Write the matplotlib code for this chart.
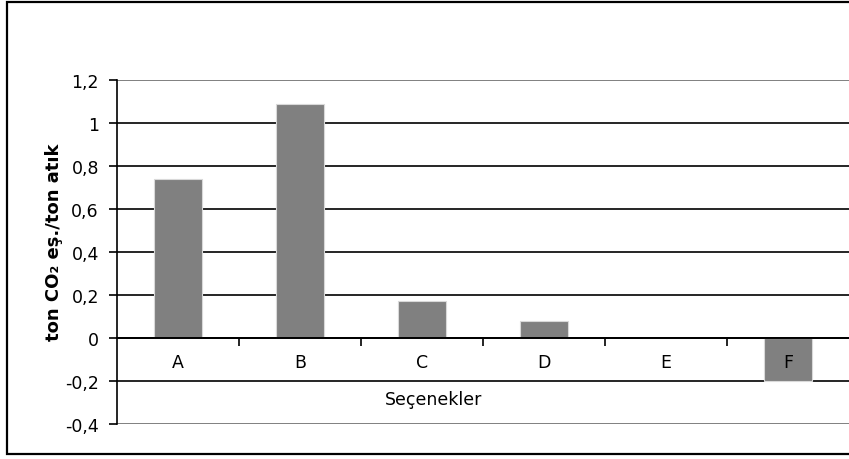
import matplotlib
matplotlib.use("Agg")
import matplotlib.pyplot as plt
from matplotlib.lines import Line2D

# Emission factors per option
categories = ["A", "B", "C", "D", "E", "F"]
values = [0.74, 1.09, 0.17, 0.08, 0.0, -0.2]

y_ticks = [-0.4, -0.2, 0.0, 0.2, 0.4, 0.6, 0.8, 1.0, 1.2]
y_tick_labels = ["-0,4", "-0,2", "0", "0,2", "0,4", "0,6", "0,8", "1", "1,2"]

plt.rcParams["font.family"] = ["DejaVu Sans"]

W, H = 849, 460
fig = plt.figure(figsize=(W / 100, H / 100), dpi=100)

# Outer chart frame: left, top and bottom edges (right edge lies off the canvas)
frame_x = [W + 10, 7, 7, W + 10]
frame_y = [H - 2.5, H - 2.5, H - 455, H - 455]
fig.lines.append(Line2D([v / W for v in frame_x], [v / H for v in frame_y],
                        transform=fig.transFigure, color="black",
                        linewidth=1.6, solid_joinstyle="miter"))

ax = fig.add_axes([117 / W, (H - 425) / H, (849 - 117) / W, (425 - 81) / H])
ax.set_axisbelow(False)
x = list(range(len(categories)))

ax.set_xlim(-0.5, len(categories) - 0.5)
ax.set_ylim(-0.4, 1.2)

# Horizontal gridlines; the outer ones form the grey plot-area border
for t in y_ticks:
    if t in (-0.4, 1.2):
        ax.axhline(t, color="#808080", linewidth=1.4, zorder=1)
    else:
        ax.axhline(t, color="black", linewidth=1.2, zorder=1)

ax.bar(x, values, width=0.4, color="#808080", edgecolor="#d9d9d9",
       linewidth=0.8, zorder=2)

# Spines
for side in ("top", "right"):
    ax.spines[side].set_visible(False)
ax.spines["left"].set_color("black")
ax.spines["left"].set_linewidth(1.2)
ax.spines["bottom"].set_position(("data", 0))
ax.spines["bottom"].set_color("black")
ax.spines["bottom"].set_linewidth(1.4)
ax.spines["bottom"].set_zorder(3)

ax.set_yticks(y_ticks)
ax.set_yticklabels(y_tick_labels)
ax.tick_params(axis="y", direction="out", length=6, width=1.2,
               labelsize=12.5, pad=7, colors="black")

# Category labels centred under the zero line; ticks at category boundaries
ax.set_xticks(x)
ax.set_xticklabels(categories)
ax.set_xticks([i + 0.5 for i in x[:-1]], minor=True)
ax.tick_params(axis="x", which="major", length=0, labelsize=12.5, pad=11)
ax.tick_params(axis="x", which="minor", direction="out", length=6, width=1.2)

fig.text(434 / W, 1 - 400 / H, "Seçenekler", ha="center", va="center",
         fontsize=12.5)
fig.text(54 / W, 1 - 242 / H, "ton CO₂ eş./ton atık", ha="center",
         va="center", rotation=90, fontsize=13, fontweight="bold")

fig.savefig("out.png", dpi=100)
